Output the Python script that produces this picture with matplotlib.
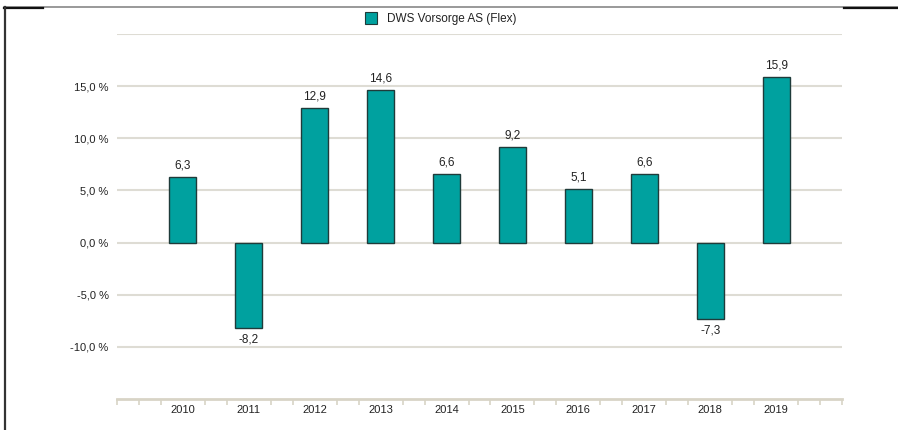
import numpy as np
import matplotlib.pyplot as plt
from matplotlib.lines import Line2D
from matplotlib.ticker import FixedLocator

plt.rcParams['font.family'] = ['Liberation Sans', 'DejaVu Sans']

years = ['2010', '2011', '2012', '2013', '2014', '2015', '2016', '2017', '2018', '2019']
values = [6.3, -8.2, 12.9, 14.6, 6.6, 9.2, 5.1, 6.6, -7.3, 15.9]
series_name = 'DWS Vorsorge AS (Flex)'
y_ticks = [-10, -5, 0, 5, 10, 15]

teal = '#00a19f'
edge = '#1f3b3a'
grid_col = '#dedcd4'
axis_col = '#d8d4c6'
text_col = '#222222'

fig = plt.figure(figsize=(8.98, 4.30), dpi=100)
W, H = 898, 430
ax = fig.add_axes([117 / W, 1 - 399 / H, (842 - 117) / W, (399 - 34) / H])

x = np.arange(len(years))
ax.bar(x, values, width=0.41, color=teal, edgecolor=edge, linewidth=1.0, zorder=3)

for xi, v in zip(x, values):
    lab = f'{v:.1f}'.replace('.', ',')
    if v >= 0:
        ax.annotate(lab, (xi, v), xytext=(0, 4), textcoords='offset points',
                    ha='center', va='bottom', fontsize=8.5, color=text_col)
    else:
        ax.annotate(lab, (xi, v), xytext=(0, -4), textcoords='offset points',
                    ha='center', va='top', fontsize=8.5, color=text_col)

ax.set_xlim(-1, 10)
ax.set_ylim(-15, 20)

# horizontal grid
for gy in y_ticks + [20]:
    ax.axhline(gy, color=grid_col, lw=1.5, zorder=1)

ax.set_yticks(y_ticks)
ax.set_yticklabels([f'{t:.1f} %'.replace('.', ',') for t in y_ticks])
ax.tick_params(axis='y', length=0, pad=6, labelsize=8, labelcolor=text_col)

# x axis: labels at categories, small ticks at thirds
ax.set_xticks(x)
ax.set_xticklabels(years)
ax.tick_params(axis='x', length=0, pad=4, labelsize=8, labelcolor=text_col)
minor = [p / 3 for p in range(-3, 31) if p % 3 != 0 or p in (-3, 30)]
ax.xaxis.set_minor_locator(FixedLocator(minor))
ax.tick_params(axis='x', which='minor', length=4, width=1.2, color=axis_col, direction='out')

for s in ['top', 'right', 'left']:
    ax.spines[s].set_visible(False)
ax.spines['bottom'].set_color(axis_col)
ax.spines['bottom'].set_linewidth(2)

# legend
handle = Line2D([], [], marker='s', linestyle='none', markersize=8,
                markerfacecolor=teal, markeredgecolor=edge, markeredgewidth=0.8)
fig.legend([handle], [series_name], loc='center', bbox_to_anchor=(438 / W, 1 - 19 / H),
           frameon=False, fontsize=8.5, handletextpad=0.3, labelcolor=text_col)

# outer frame pieces
fig.add_artist(Line2D([4 / W, 898 / W], [1 - 7 / H, 1 - 7 / H], color='#888888', lw=1.2))
fig.add_artist(Line2D([4 / W, 43 / W], [1 - 7.5 / H, 1 - 7.5 / H], color='#111111', lw=1.6))
fig.add_artist(Line2D([844 / W, 898 / W], [1 - 8 / H, 1 - 8 / H], color='#111111', lw=1.6))
fig.add_artist(Line2D([5 / W, 5 / W], [0, 1 - 7 / H], color='#333333', lw=1.6))

fig.savefig('out.png', dpi=100)
